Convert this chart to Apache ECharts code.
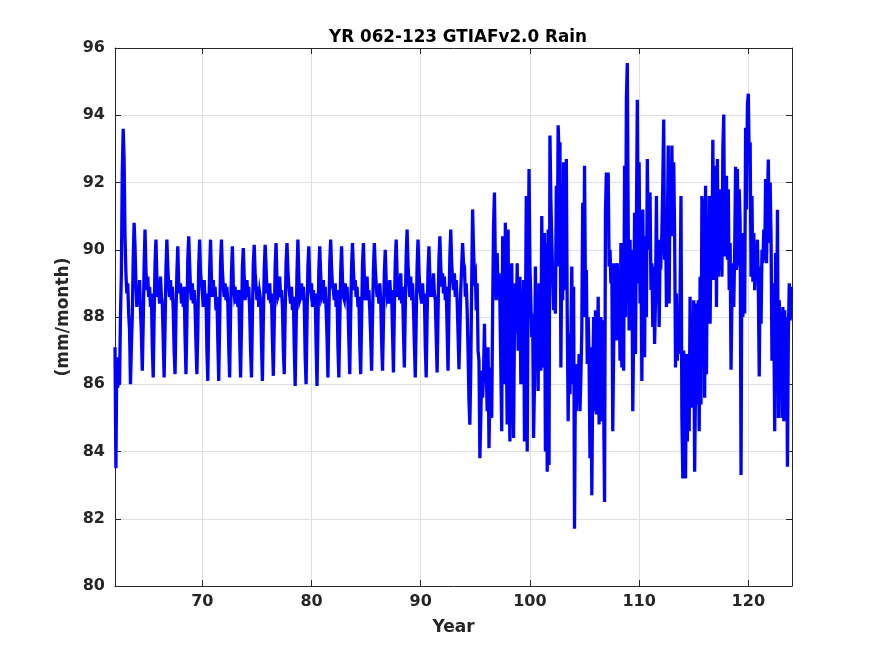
<!DOCTYPE html>
<html>
<head>
<meta charset="utf-8">
<title>YR 062-123 GTIAFv2.0 Rain</title>
<script src="https://cdn.jsdelivr.net/npm/echarts@6/dist/echarts.min.js"></script>
<style>
  html, body { margin: 0; padding: 0; background: #fff; }
  #main { width: 875px; height: 656px; }
</style>
</head>
<body>
<div id="main"></div>
<script>
// monthly rain (mm/month), Jan..Dec of each year, blocks start at the given year
var start62 = 62;
var rain62to69 = [
  87.1, 83.5, 86.8, 85.9, 86.8, 86.0, 88.0, 89.3, 92.3, 93.6, 92.7, 90.4,
  89.3, 88.7, 89.0, 88.1, 87.6, 86.0, 87.1, 88.0, 89.7, 90.8, 90.1, 89.0,
  88.3, 88.9, 88.4, 89.1, 88.2, 87.5, 86.4, 87.8, 89.5, 90.6, 89.4, 88.8,
  89.2, 88.6, 88.9, 88.3, 88.7, 87.1, 86.2, 88.0, 89.6, 90.3, 89.2, 88.6,
  88.9, 88.4, 89.2, 88.6, 88.4, 87.3, 86.2, 87.7, 89.4, 90.3, 89.5, 88.9,
  88.6, 89.1, 88.5, 88.9, 88.2, 87.0, 86.3, 88.1, 89.3, 90.1, 89.0, 88.7,
  89.0, 88.4, 88.8, 88.3, 88.9, 87.4, 86.3, 87.9, 89.7, 90.4, 89.6, 88.8,
  88.5, 89.0, 88.4, 88.8, 88.3, 87.2, 86.3, 87.6, 89.5, 90.3, 89.3, 89.0
];
var start70 = 70;
var rain70to79 = [
  88.7, 88.3, 89.1, 88.5, 88.7, 87.0, 86.1, 88.0, 89.4, 90.3, 89.1, 88.6,
  89.1, 88.6, 88.9, 88.2, 88.6, 87.3, 86.1, 87.8, 89.6, 90.3, 89.4, 88.9,
  88.6, 89.0, 88.5, 88.9, 88.4, 87.1, 86.2, 88.1, 89.3, 90.1, 89.0, 88.7,
  88.9, 88.4, 88.8, 88.3, 88.8, 87.4, 86.2, 87.7, 89.5, 90.05, 89.2, 88.5,
  88.8, 89.1, 88.6, 88.9, 88.2, 87.0, 86.2, 88.0, 89.6, 90.15, 89.3, 88.9,
  88.5, 88.9, 88.3, 88.7, 88.5, 87.2, 86.1, 87.9, 89.4, 90.15, 89.5, 88.7,
  89.0, 88.5, 89.0, 88.4, 88.7, 87.3, 86.25, 87.8, 89.5, 90.2, 89.1, 88.6,
  88.7, 89.2, 88.6, 88.8, 88.3, 87.0, 86.3, 88.1, 89.6, 90.2, 89.4, 88.9,
  88.9, 88.4, 88.9, 88.2, 88.6, 87.1, 85.95, 87.6, 89.3, 90.3, 89.2, 88.5,
  88.6, 89.0, 88.5, 88.9, 88.4, 86.8, 86.0, 87.9, 89.5, 90.1, 89.0, 88.8
];
var start80 = 80;
var rain80to89 = [
  89.0, 88.3, 88.8, 88.4, 88.7, 87.2, 85.95, 87.7, 89.4, 90.1, 89.3, 88.6,
  88.7, 89.1, 88.4, 88.9, 88.3, 87.4, 86.2, 88.0, 89.6, 90.3, 89.5, 88.9,
  88.8, 88.5, 89.0, 88.3, 88.8, 87.1, 86.2, 87.8, 89.3, 90.1, 89.1, 88.6,
  88.5, 89.0, 88.6, 88.9, 88.4, 87.3, 86.3, 88.1, 89.5, 90.2, 89.4, 88.8,
  89.1, 88.6, 88.9, 88.3, 88.6, 87.2, 86.3, 87.9, 89.6, 90.2, 89.2, 88.5,
  88.7, 89.2, 88.5, 88.8, 88.2, 87.4, 86.4, 88.0, 89.4, 90.2, 89.5, 89.0,
  88.6, 88.9, 88.4, 89.0, 88.5, 87.3, 86.4, 87.8, 89.3, 90.0, 89.1, 88.7,
  88.9, 88.4, 89.1, 88.6, 88.8, 87.5, 86.35, 88.2, 89.6, 90.3, 89.3, 88.6,
  89.1, 88.5, 89.3, 88.4, 88.9, 87.6, 86.5, 88.3, 89.8, 90.6, 89.6, 89.0,
  88.6, 89.2, 88.5, 89.0, 88.3, 87.2, 86.2, 87.9, 89.5, 90.3, 89.4, 88.8
];
var start90 = 90;
var rain90to99 = [
  88.8, 88.4, 89.0, 88.5, 88.7, 87.1, 86.2, 88.0, 89.4, 90.1, 89.2, 88.6,
  89.0, 88.6, 89.3, 88.7, 88.5, 87.4, 86.35, 88.1, 89.7, 90.4, 89.5, 88.9,
  89.3, 88.7, 89.2, 88.5, 88.9, 87.6, 86.4, 88.2, 89.8, 90.6, 89.6, 89.1,
  88.8, 89.3, 88.6, 89.1, 88.5, 87.5, 86.45, 87.6, 88.8, 89.5, 90.2, 89.6,
  89.5, 88.6, 89.0, 88.2, 87.0, 85.5, 84.8, 86.5, 89.0, 91.2, 90.0, 89.2,
  89.3, 88.2, 89.0, 87.0, 86.7, 83.8, 85.0, 86.4, 85.6, 86.3, 87.8, 86.2,
  86.5, 85.2, 87.1, 84.1, 85.8, 86.5, 85.0, 88.2, 90.7, 91.7, 89.6, 88.5,
  89.9, 88.6, 89.3, 88.4, 86.5, 84.6, 90.4, 88.3, 86.0, 90.8, 87.4, 84.8,
  90.6, 86.0, 84.3, 88.2, 89.6, 86.5, 84.4, 87.8, 89.0, 87.5, 89.6, 87.0,
  88.0, 89.2, 86.0, 88.5, 87.3, 89.1, 84.3, 87.5, 91.6, 84.0, 89.0, 92.4
];
var start100 = 100;
var rain100to109 = [
  89.5, 88.5, 87.4, 88.1, 84.4, 86.0, 89.5, 86.6, 88.3, 85.8, 89.0, 87.2,
  86.4, 91.0, 88.0, 86.5, 90.5, 84.0, 90.2, 83.4, 90.6, 83.6, 93.4, 91.5,
  90.3, 89.2, 88.2, 89.4, 88.1, 91.9, 89.5, 93.7, 92.8, 93.2, 86.5, 90.0,
  88.5, 92.6, 89.0, 88.8, 92.7, 88.0, 84.9, 87.5, 85.7, 87.2, 89.5, 86.0,
  88.9, 81.7, 86.4, 85.2, 86.6, 85.6, 86.9, 85.2, 86.2, 87.6, 91.4, 88.0,
  92.5, 88.7, 89.4, 86.6, 88.0, 86.7, 83.8, 87.1, 82.7, 86.0, 88.0, 85.2,
  88.2, 85.1, 86.5, 88.6, 84.8, 87.5, 88.0, 84.9, 87.9, 85.4, 82.5, 91.1,
  92.3, 91.0, 92.3, 89.5, 90.0, 89.0, 89.6, 84.6, 87.0, 89.6, 87.3, 89.2,
  89.6, 87.3, 89.2, 86.7, 90.2, 86.5, 89.7, 86.4, 92.5, 88.0, 94.5, 95.55,
  90.7, 87.6, 90.3, 88.4, 90.0, 85.2, 87.5, 91.1, 86.9, 90.8, 94.46, 89.0
];
var start110 = 110;
var rain110to123 = [
  92.6, 88.4, 90.5, 86.1, 91.2, 88.8, 86.8, 90.4, 88.0, 92.7, 90.0, 91.3,
  91.7, 88.8, 89.6, 87.7, 89.5, 87.2, 88.5, 91.6, 88.4, 90.3, 87.7, 89.8,
  89.7, 90.5, 92.0, 93.87, 89.7, 91.2, 88.3, 90.5, 93.1, 88.4, 92.5, 90.4,
  93.1, 90.4, 92.6, 90.5, 86.5, 88.7, 86.7, 88.0, 86.9, 88.5, 91.6, 85.0,
  83.2, 87.0, 84.5, 83.2, 86.9, 84.3, 86.0, 84.6, 88.6, 85.3, 88.0, 86.2,
  88.5, 83.4, 86.0, 88.4, 85.4, 88.5, 84.6, 89.2, 85.4, 91.6, 87.4, 91.5,
  85.6, 91.9, 86.3, 90.2, 87.8, 91.6, 87.8, 90.5, 89.5, 93.27, 89.1, 92.0,
  92.5, 88.3, 92.7, 89.2, 91.8, 89.4, 90.8, 89.2, 93.0, 94.02, 89.8, 91.0,
  92.2, 89.7, 91.8, 88.8, 90.2, 86.43, 88.5, 89.6, 88.3, 90.0, 92.47, 89.4,
  92.4, 89.5, 91.8, 90.8, 83.3, 90.5, 88.0, 90.3, 88.1, 93.63, 91.2, 94.3,
  94.64, 92.6, 93.2, 89.2, 91.6, 89.05, 90.5, 88.8, 90.0, 89.2, 90.3, 88.9,
  86.23, 89.5, 87.8, 90.0, 89.6, 90.6, 89.7, 92.1, 89.6, 91.5, 92.68, 90.2,
  92.0, 90.3, 86.7, 89.0, 88.0, 84.6, 89.9, 87.0, 91.19, 85.0, 88.5, 87.0,
  88.1, 85.0, 88.3, 84.9, 88.2, 86.0, 88.0, 83.55, 87.5, 89.0, 87.9, 88.9
];

var xTicks = [70, 80, 90, 100, 110, 120];
var yMin = 80, yMax = 96, yStep = 2;
var xMin = 62, xMax = 124;

var blocks = [
  [start62, rain62to69], [start70, rain70to79], [start80, rain80to89],
  [start90, rain90to99], [start100, rain100to109], [start110, rain110to123]
];
var seriesData = [];
blocks.forEach(function (b) {
  for (var i = 0; i < b[1].length; i++) {
    seriesData.push([b[0] + i / 12, b[1][i]]);
  }
});

var chart = echarts.init(document.getElementById('main'), null, { renderer: 'canvas' });
var ink = '#262626';
var font = 'DejaVu Sans';

var option = {
  animation: false,
  backgroundColor: '#ffffff',
  title: {
    text: 'YR 062-123 GTIAFv2.0 Rain',
    left: 453,
    top: 24,
    textAlign: 'center',
    textStyle: { fontFamily: font, fontWeight: 'bold', fontSize: 16.8, color: '#000' }
  },
  grid: { left: 115, right: 83, top: 48, bottom: 70, containLabel: false },
  xAxis: [{
    type: 'value', min: xMin, max: xMax,
    name: 'Year', nameLocation: 'middle', nameGap: 33,
    nameTextStyle: { fontFamily: font, fontWeight: 'bold', fontSize: 17, color: ink },
    axisLine: { show: true, onZero: false, lineStyle: { color: ink, width: 1 } },
    axisTick: { show: true, inside: true, length: 6, customValues: xTicks, lineStyle: { color: ink } },
    axisLabel: { customValues: xTicks, fontFamily: font, fontWeight: 'bold', fontSize: 16, color: ink, margin: 8 },
    splitLine: { show: true, lineStyle: { color: '#dfdfdf', width: 1 } }
  }, {
    type: 'value', min: xMin, max: xMax, position: 'top',
    axisLine: { show: true, onZero: false, lineStyle: { color: ink, width: 1 } },
    axisTick: { show: true, inside: true, length: 6, customValues: xTicks, lineStyle: { color: ink } },
    axisLabel: { show: false },
    splitLine: { show: false }
  }],
  yAxis: [{
    type: 'value', min: yMin, max: yMax, interval: yStep,
    name: '(mm/month)', nameLocation: 'middle', nameGap: 41,
    nameTextStyle: { fontFamily: font, fontWeight: 'bold', fontSize: 17, color: ink },
    axisLine: { show: true, onZero: false, lineStyle: { color: ink, width: 1 } },
    axisTick: { show: true, inside: true, length: 6, lineStyle: { color: ink } },
    axisLabel: { fontFamily: font, fontWeight: 'bold', fontSize: 16, color: ink, margin: 10 },
    splitLine: { show: true, lineStyle: { color: '#dfdfdf', width: 1 } }
  }, {
    type: 'value', min: yMin, max: yMax, interval: yStep, position: 'right',
    axisLine: { show: true, onZero: false, lineStyle: { color: ink, width: 1 } },
    axisTick: { show: true, inside: true, length: 6, lineStyle: { color: ink } },
    axisLabel: { show: false },
    splitLine: { show: false }
  }],
  series: [{
    type: 'line',
    xAxisIndex: 0,
    yAxisIndex: 0,
    data: seriesData,
    showSymbol: false,
    symbol: 'none',
    lineStyle: { color: '#0000ff', width: 3.3, join: 'miter' },
    itemStyle: { color: '#0000ff' },
    clip: true
  }]
};
chart.setOption(option);
</script>
</body>
</html>
